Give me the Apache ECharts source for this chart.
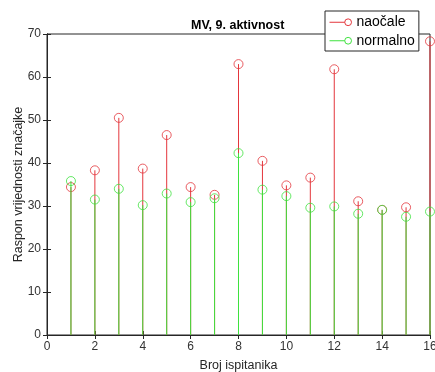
<!DOCTYPE html>
<html>
<head>
<meta charset="utf-8">
<script src="https://cdn.jsdelivr.net/npm/echarts@6/dist/echarts.min.js"></script>
<style>
html,body{margin:0;padding:0;background:#fff;}
#chart{width:435px;height:372px;}
</style>
</head>
<body>
<div id="chart"></div>
<script>
const subjects = [1,2,3,4,5,6,7,8,9,10,11,12,13,14,15,16];
const naocale  = [34.4,38.3,50.5,38.7,46.5,34.4,32.6,63.0,40.5,34.8,36.6,61.8,31.1,29.1,29.7,68.3];
const normalno = [35.8,31.5,34.0,30.2,32.9,30.9,31.8,42.3,33.8,32.3,29.6,29.9,28.2,29.1,27.5,28.7];
const xTicks = [0,2,4,6,8,10,12,14,16];
const yTicks = [0,10,20,30,40,50,60,70];

const RED = '#e4363c';
const GREEN = '#3ee23e';
const AX = '#262626';
const FONT = 'Liberation Sans, Arial, Helvetica, sans-serif';

function pairs(vals){ return subjects.map((s,i)=>[s, vals[i]]); }

function stemSeries(name, vals, color, z){
  return {
    type: 'custom', name: name,
    data: pairs(vals),
    itemStyle: {color: color},
    renderItem: function(params, api){
      const p0 = api.coord([api.value(0), 0]);
      const p1 = api.coord([api.value(0), api.value(1)]);
      return {type:'line', shape:{x1:p0[0], y1:p0[1], x2:p1[0], y2:p1[1]},
              style:{stroke: color, lineWidth: 1}};
    },
    silent: true, z: z
  };
}
function markerSeries(name, vals, color, z){
  return {
    type: 'scatter', name: name, data: pairs(vals),
    symbol: 'circle', symbolSize: 9,
    itemStyle: {color: 'rgba(0,0,0,0)', borderColor: color, borderWidth: 1},
    z: z
  };
}

const chart = echarts.init(document.getElementById('chart'), null, {renderer:'canvas'});
const iconPath = 'path://M0,5 L18,5 M18,5 A4,4 0 1 1 26,5 A4,4 0 1 1 18,5 Z';
function legendItem(name, color){
  return {name: name, icon: iconPath,
          itemStyle: {color: 'rgba(0,0,0,0)', borderColor: color, borderWidth: 1}};
}
chart.setOption({
  animation: false,
  backgroundColor: '#fff',
  title: {
    text: 'MV, 9. aktivnost', left: 191, top: 19, padding: 0,
    textStyle: {fontFamily: FONT, fontSize: 12.5, fontWeight: 'bold', color: '#000'}
  },
  legend: {
    orient: 'vertical', left: 325, top: 11,
    data: [legendItem('naočale', RED), legendItem('normalno', GREEN)],
    itemWidth: 22, itemHeight: 9, itemGap: 2,
    padding: [3, 4, 2, 4],
    backgroundColor: '#fff', borderColor: AX, borderWidth: 1,
    textStyle: {fontFamily: FONT, fontSize: 14, color: '#000', lineHeight: 16.5}
  },
  grid: {left: 47, right: 5, top: 34, bottom: 37, outerBoundsMode: 'none', containLabel: false,
         show: true, borderColor: AX, borderWidth: 1, backgroundColor: 'rgba(0,0,0,0)'},
  xAxis: [{
    type: 'value', min: xTicks[0], max: xTicks[xTicks.length-1], interval: 2,
    name: 'Broj ispitanika', nameLocation: 'middle', nameGap: 24, nameMoveOverlap: false,
    nameTextStyle: {fontFamily: FONT, fontSize: 12.5, color: '#262626'},
    axisLine: {lineStyle: {color: AX}}, axisTick: {inside: true, length: 4, lineStyle:{color:AX}},
    axisLabel: {fontFamily: FONT, fontSize: 12, color: '#333', margin: 6},
    splitLine: {show: false}
  },{
    type: 'value', position: 'top', show: true, min: 0, max: 16, interval: 2,
    axisLine: {show: true, lineStyle: {color: AX}}, axisTick: {show: true, inside: true, length: 4, lineStyle:{color:AX}},
    axisLabel: {show: false}, splitLine: {show: false}
  }],
  yAxis: [{
    type: 'value', min: yTicks[0], max: yTicks[yTicks.length-1], interval: 10,
    name: 'Raspon vrijednosti značajke', nameLocation: 'middle', nameGap: 22, nameMoveOverlap: false,
    nameTextStyle: {fontFamily: FONT, fontSize: 12.5, color: '#262626'},
    axisLine: {show: true, lineStyle: {color: AX}}, axisTick: {show: true, inside: true, length: 4, lineStyle:{color:AX}},
    axisLabel: {fontFamily: FONT, fontSize: 12, color: '#333', margin: 6},
    splitLine: {show: false}
  },{
    type: 'value', position: 'right', show: true, min: 0, max: 70, interval: 10,
    axisLine: {show: true, lineStyle: {color: AX}}, axisTick: {show: true, inside: true, length: 4, lineStyle:{color:AX}},
    axisLabel: {show: false}, splitLine: {show: false}
  }],
  series: [
    stemSeries('naočale', naocale, RED, 2),
    markerSeries('naočale', naocale, RED, 3),
    stemSeries('normalno', normalno, GREEN, 4),
    markerSeries('normalno', normalno, GREEN, 5),
    {type:'scatter', xAxisIndex:1, yAxisIndex:1, data:[], silent:true}
  ]
});
</script>
</body>
</html>
